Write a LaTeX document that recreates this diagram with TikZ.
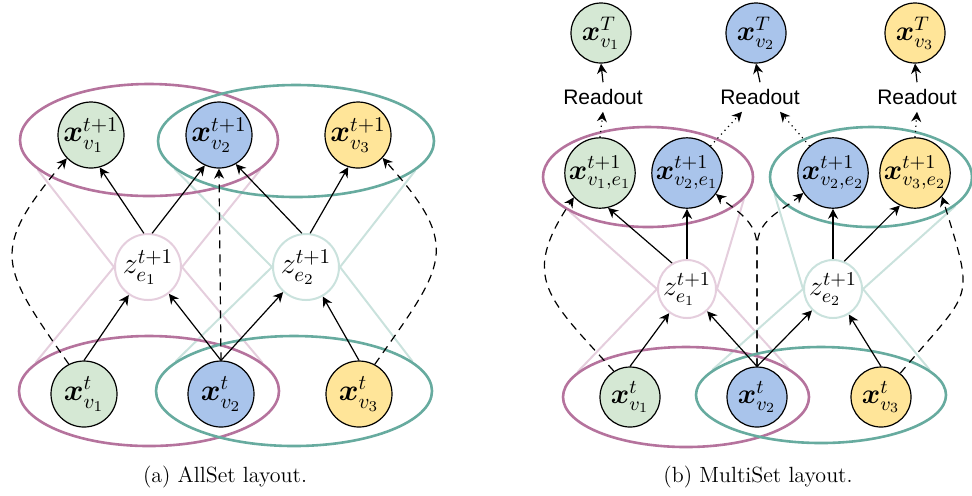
\RequirePackage{fix-cm}
\documentclass[tikz,border=0pt]{standalone}
\usepackage{amsmath}
\usepackage{fontspec}
\newfontfamily\readoutfont{Liberation Sans}
\usetikzlibrary{arrows.meta,shapes.geometric,backgrounds}

\definecolor{setgreen}{HTML}{D5E8D4}
\definecolor{setblue}{HTML}{A9C4EB}
\definecolor{setyellow}{HTML}{FFE599}
\definecolor{hypred}{HTML}{B5739D}
\definecolor{hypgreen}{HTML}{67AB9F}

\begin{document}
\begin{tikzpicture}[x=0.5pt, y=-0.5pt,
    >={Stealth[length=5pt, width=5pt]},
    vnode/.style={circle, draw=black, line width=0.6pt, inner sep=0pt,
      minimum size=33pt, font=\fontsize{15}{17}\selectfont},
    snode/.style={vnode, minimum size=30pt, font=\fontsize{14}{16}\selectfont},
    znode/.style={circle, fill=white, line width=1pt, inner sep=0pt},
    setring/.style={ellipse, line width=1.3pt, inner sep=0pt},
    cone/.style={line width=1pt},
    flow/.style={->, line width=0.6pt},
    resid/.style={->, line width=0.6pt, dash pattern=on 4pt off 3pt},
    readflow/.style={->, line width=0.6pt, dotted},
    readout/.style={font=\readoutfont\fontsize{10.5}{12}\selectfont},
    caption/.style={font=\fontsize{11}{13}\selectfont}]
  \useasboundingbox (0,0) rectangle (972,495);

  % (a) AllSet: hyperedge rings
  \node[setring, draw=hypred, minimum width=129pt, minimum height=56pt] (aredtop) at (149,140) {};
  \node[setring, draw=hypgreen, minimum width=138pt, minimum height=56pt] (agreentop) at (296,141) {};
  \node[setring, draw=hypred, minimum width=130pt, minimum height=55pt] (aredbot) at (149,391) {};
  \node[setring, draw=hypgreen, minimum width=138pt, minimum height=55pt] (agreenbot) at (294,391) {};

  % vertex states
  \foreach \i/\px/\col in {1/91/setgreen, 2/219/setblue, 3/358/setyellow} {
    \node[vnode, fill=\col] (atop\i) at (\px,135) {$\boldsymbol{x}^{t+1}_{v_\i}$};
  }
  \foreach \i/\px/\col in {1/84/setgreen, 2/221/setblue, 3/359/setyellow} {
    \node[vnode, fill=\col] (abot\i) at (\px,394) {$\boldsymbol{x}^{t}_{v_\i}$};
  }

  % hyperedge states
  \node[znode, draw=hypred!35, minimum size=33pt, font=\fontsize{15}{17}\selectfont] (az1) at (148,267) {$z^{t+1}_{e_1}$};
  \node[znode, draw=hypgreen!35, minimum size=33pt, font=\fontsize{15}{17}\selectfont] (az2) at (306,267) {$z^{t+1}_{e_2}$};

  \begin{pgfonlayer}{background}
    \draw[cone, hypred!35] (aredtop.195) -- (az1.west) -- (aredbot.166);
    \draw[cone, hypred!35] (aredtop.345) -- (az1.east) -- (aredbot.14);
    \draw[cone, hypgreen!35] (agreentop.193) -- (az2.west) -- (agreenbot.166);
    \draw[cone, hypgreen!35] (agreentop.346) -- (az2.east) -- (agreenbot.14);
  \end{pgfonlayer}

  \draw[flow] (az1.97) -- (atop1.285);
  \draw[flow] (az1.83) -- (atop2.245);
  \draw[flow] (az2.97) -- (atop2.300);
  \draw[flow] (az2.83) -- (atop3.253);
  \draw[flow] (abot1.north) -- (az1);
  \draw[flow] (abot2.north) -- (az1);
  \draw[flow] (abot2.north) -- (az2);
  \draw[flow] (abot3.north) -- (az2);

  % residual links
  \draw[resid] (abot1.117) to[out=125, in=230, looseness=1.5] (atop1.224);
  \draw[resid] (abot2.north) -- (atop2.south);
  \draw[resid] (abot3.62) to[out=55, in=-48, looseness=1.5] (atop3.-43);

  \node[caption] (capa) at (225,477) {(a) AllSet layout.};

  % (b) MultiSet: hyperedge rings
  \node[setring, draw=hypred, minimum width=105pt, minimum height=50pt] (bredmid) at (648,177) {};
  \node[setring, draw=hypgreen, minimum width=101pt, minimum height=50pt] (bgreenmid) at (871,177) {};
  \node[setring, draw=hypred, minimum width=123pt, minimum height=50pt] (bredbot) at (686,397) {};
  \node[setring, draw=hypgreen, minimum width=125pt, minimum height=48pt] (bgreenbot) at (821,395) {};

  % final states and readouts
  \foreach \i/\px/\rx/\col in {1/601/603/setgreen, 2/756/760/setblue, 3/915/917/setyellow} {
    \node[snode, fill=\col] (btop\i) at (\px,33) {$\boldsymbol{x}^{T}_{v_\i}$};
    \node[readout] (bread\i) at (\rx,97) {Readout};
    \draw[flow] (bread\i.north) -- (btop\i.south);
  }

  % per-edge vertex states
  \node[snode, fill=setgreen] (bv1e1) at (600,173) {$\boldsymbol{x}^{t+1}_{v_1,e_1}$};
  \node[snode, fill=setblue] (bv2e1) at (687,173) {$\boldsymbol{x}^{t+1}_{v_2,e_1}$};
  \node[snode, fill=setblue] (bv2e2) at (833,173) {$\boldsymbol{x}^{t+1}_{v_2,e_2}$};
  \node[snode, fill=setyellow] (bv3e2) at (915,173) {$\boldsymbol{x}^{t+1}_{v_3,e_2}$};

  \foreach \i/\px/\col in {1/630/setgreen, 2/757/setblue, 3/881/setyellow} {
    \node[snode, fill=\col] (bbot\i) at (\px,397) {$\boldsymbol{x}^{t}_{v_\i}$};
  }

  \node[znode, draw=hypred!35, minimum size=29pt, font=\fontsize{14}{16}\selectfont] (bz1) at (687,289) {$z^{t+1}_{e_1}$};
  \node[znode, draw=hypgreen!35, minimum size=29pt, font=\fontsize{14}{16}\selectfont] (bz2) at (833,289) {$z^{t+1}_{e_2}$};

  \begin{pgfonlayer}{background}
    \draw[cone, hypred!35] (bredmid.204) -- (bz1.west) -- (bredbot.167);
    \draw[cone, hypred!35] (bredmid.347) -- (bz1.east) -- (bredbot.16);
    \draw[cone, hypgreen!35] (bgreenmid.190) -- (bz2.west) -- (bgreenbot.167);
    \draw[cone, hypgreen!35] (bgreenmid.341) -- (bz2.east) -- (bgreenbot.13);
  \end{pgfonlayer}

  \draw[readflow] (bv1e1.north) -- (bread1.south);
  \draw[readflow] (bv2e1.49) -- ([xshift=-9pt]bread2.south);
  \draw[readflow] (bv2e2.131) -- ([xshift=10pt]bread2.south);
  \draw[readflow] (bv3e2.north) -- (bread3.south);

  \draw[flow] (bz1.120) -- (bv1e1.283);
  \draw[flow] (bz1.north) -- (bv2e1.south);
  \draw[flow] (bz2.north) -- (bv2e2.south);
  \draw[flow] (bz2.68) -- (bv3e2.245);
  \draw[flow] (bbot1.north) -- (bz1);
  \draw[flow] (bbot2.north) -- (bz1);
  \draw[flow] (bbot2.north) -- (bz2);
  \draw[flow] (bbot3.north) -- (bz2);

  % residual links
  \coordinate (bsplit) at (757,247);
  \draw[resid] (bbot1.122) to[out=132, in=236, looseness=1.4] (bv1e1.223);
  \draw[resid] (bbot2.north) -- (bsplit) to[out=90, in=-40] (bv2e1.-36);
  \draw[resid] (bbot2.north) -- (bsplit) to[out=90, in=220] (bv2e2.214);
  \draw[resid] (bbot3.51) to[out=50, in=-73, looseness=1.6] (bv3e2.-41);

  \node[caption] (capb) at (758,477) {(b) MultiSet layout.};
\end{tikzpicture}
\end{document}
